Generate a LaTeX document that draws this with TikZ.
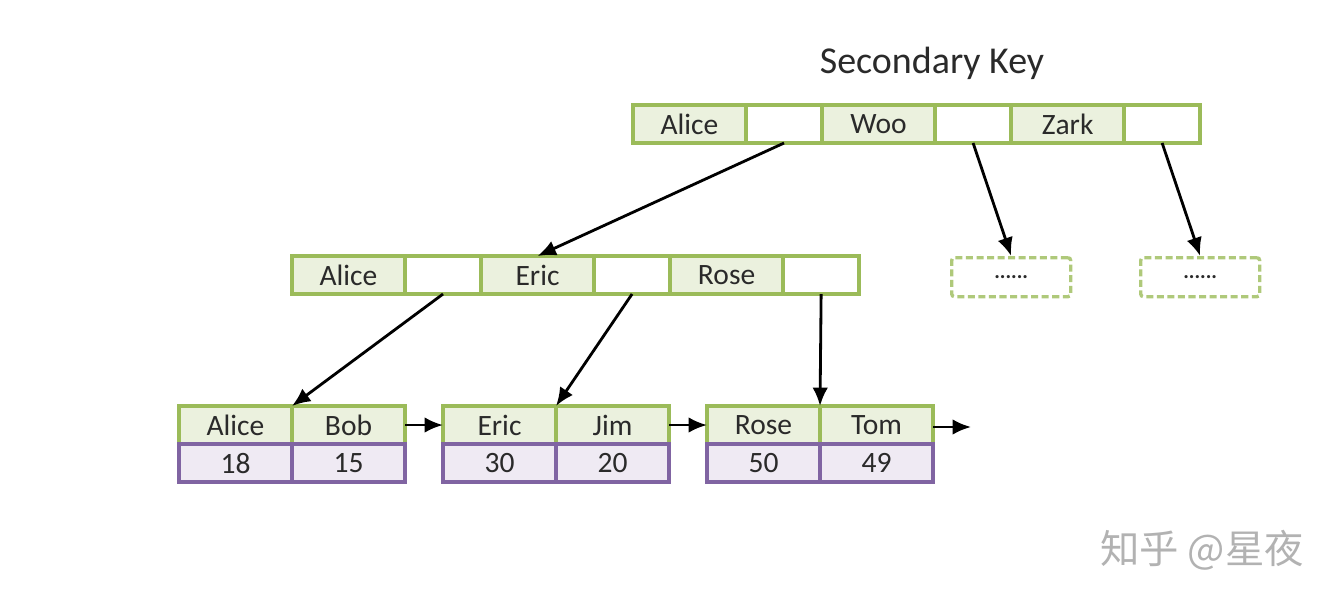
\documentclass[tikz,border=0pt]{standalone}
\usepackage{fontspec}
\setmainfont{Carlito}
\newfontfamily\cjk{Noto Sans CJK SC}
\usetikzlibrary{arrows.meta, positioning}
\definecolor{keygreen}{HTML}{9BBB59}
\definecolor{keyfill}{HTML}{EBF1DE}
\definecolor{valpurple}{HTML}{8064A2}
\definecolor{valfill}{HTML}{EFEAF3}
\definecolor{txtgray}{HTML}{2A2A2A}
\tikzstyle{key} = [rectangle, minimum width=2.825cm, minimum height=0.95cm, inner sep=0pt, outer sep=0pt, draw=keygreen, fill=keyfill, line width=2.4pt, text=txtgray, font=\fontsize{21}{25}\selectfont]
\tikzstyle{ptr} = [key, minimum width=1.9cm, fill=white]
\tikzstyle{val} = [key, draw=valpurple, fill=valfill]
\tikzstyle{stub} = [rectangle, rounded corners=2pt, minimum width=2.975cm, minimum height=0.975cm, inner sep=0pt, draw=keygreen!80, line width=2.4pt, dash pattern=on 5pt off 2.5pt, text=txtgray, font=\bfseries\fontsize{15}{17}\selectfont]
\tikzstyle{arrow} = [line width=2pt, -{Latex[length=4.6mm, width=3.9mm]}]

\begin{document}
\begin{tikzpicture}[x=0.025cm, y=-0.025cm]
    \useasboundingbox (0,0) rectangle (1343,607);

    % Title
    \node (title) [text=txtgray, font=\fontsize{27}{31}\selectfont] at (932,63) {Secondary Key};

    % Root node
    \node (rA) [key, anchor=north west] at (633,105) {Alice};
    \node (rpA) [ptr, right=0pt of rA] {};
    \node (rW) [key, right=0pt of rpA] {Woo};
    \node (rpW) [ptr, right=0pt of rW] {};
    \node (rZ) [key, right=0pt of rpW] {Zark};
    \node (rpZ) [ptr, right=0pt of rZ] {};

    % Inner node
    \node (mA) [key, anchor=north west] at (292,256) {Alice};
    \node (mpA) [ptr, right=0pt of mA] {};
    \node (mE) [key, right=0pt of mpA] {Eric};
    \node (mpE) [ptr, right=0pt of mE] {};
    \node (mR) [key, right=0pt of mpE] {Rose};
    \node (mpR) [ptr, right=0pt of mR] {};

    % Elided subtrees
    \node (stubW) [stub, anchor=north west] at (950,256) {......};
    \node (stubZ) [stub, anchor=north west] at (1139,256) {......};

    % Leaves
    \node (lA) [key, anchor=north west] at (179,406) {Alice};
    \node (lB) [key, right=0pt of lA] {Bob};
    \node (lA18) [val, below=0pt of lA] {18};
    \node (lB15) [val, below=0pt of lB] {15};

    \node (lE) [key, anchor=north west] at (443,406) {Eric};
    \node (lJ) [key, right=0pt of lE] {Jim};
    \node (lE30) [val, below=0pt of lE] {30};
    \node (lJ20) [val, below=0pt of lJ] {20};

    \node (lR) [key, anchor=north west] at (707,406) {Rose};
    \node (lT) [key, right=0pt of lR] {Tom};
    \node (lR50) [val, below=0pt of lR] {50};
    \node (lT49) [val, below=0pt of lT] {49};
    \coordinate (lnext) at (971,427);

    % Pointers
    \draw [arrow] (rpA.south) -- (mE.north);
    \draw [arrow] (rpW.south) -- (stubW.north);
    \draw [arrow] (rpZ.south) -- (stubZ.north);
    \draw [arrow] (mpA.south) -- (lA.north east);
    \draw [arrow] (mpE.south) -- (lE.north east);
    \draw [arrow] (mpR.south) -- (lR.north east);

    % Leaf chain
    \draw [arrow] (lB.east) -- (lE.west);
    \draw [arrow] (lJ.east) -- (lR.west);
    \draw [arrow] (lT.east |- lnext) -- (lnext);

    % Watermark
    \node (mark) [text=black!30, font=\cjk\fontsize{28}{32}\selectfont] at (1202,550) {知乎 @星夜};
\end{tikzpicture}
\end{document}
